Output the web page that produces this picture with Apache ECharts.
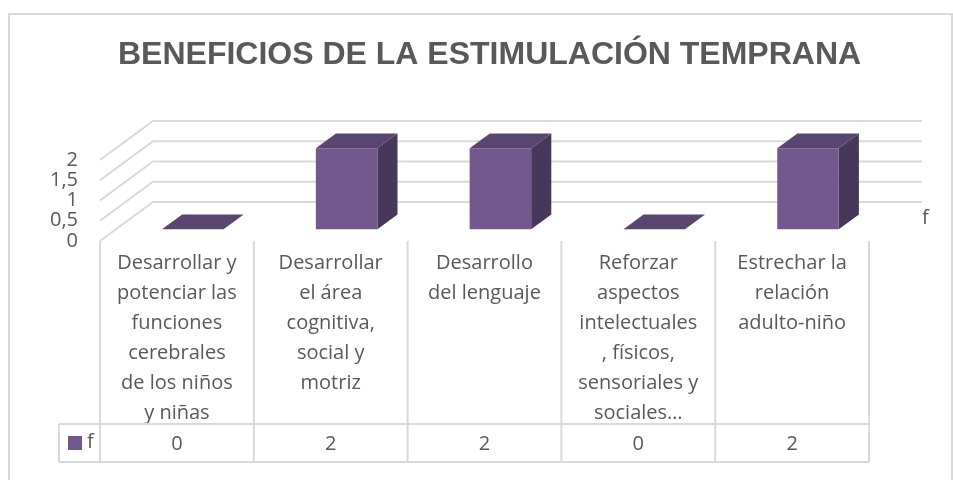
<!DOCTYPE html>
<html>
<head>
<meta charset="utf-8">
<script src="https://cdn.jsdelivr.net/npm/echarts@6/dist/echarts.min.js"></script>
<style>
  html, body { margin: 0; padding: 0; background: #fff; }
  #chart { width: 953px; height: 480px; }
</style>
</head>
<body>
<div id="chart"></div>
<script>
const title = 'BENEFICIOS DE LA ESTIMULACIÓN TEMPRANA'
const categories = [
  'Desarrollar y\npotenciar las\nfunciones\ncerebrales\nde los niños\ny niñas',
  'Desarrollar\nel área\ncognitiva,\nsocial y\nmotriz',
  'Desarrollo\ndel lenguaje',
  'Reforzar\naspectos\nintelectuales\n, físicos,\nsensoriales y\nsociales…',
  'Estrechar la\nrelación\nadulto-niño'
]
const seriesName = 'f'
const values = [0, 2, 2, 0, 2]
const yTicks = [0, 0.5, 1, 1.5, 2]

// estilo
const textColor = '#595959'
const lineColor = '#d9d9d9'
const frontColor = '#73588e'
const topColor = '#5a4570'
const sideColor = '#47375a'
const font = '"Open Sans", sans-serif'
// profundidad del "3D" en pixeles
const DX = 53, DY = -39
const BAR_FRONT = 0.3, BAR_BACK = 0.68
const BAR_SHARE = 0.4
// tabla de datos
const TABLE_TOP = 241, ROW_SPLIT = 424, TABLE_BOTTOM = 462, LEGEND_LEFT = 59

const myChart = echarts.init(document.getElementById('chart'))

const option = {
  animation: false,
  title: {
    text: title,
    left: 118,
    top: 39,
    padding: 0,
    textStyle: {
      color: textColor,
      fontSize: 32,
      fontWeight: 'bold',
      fontFamily: '"Liberation Sans", Arial, sans-serif'
    }
  },
  grid: { left: 100, right: 84, top: 160, bottom: 239 },
  xAxis: [
    {
      type: 'category',
      data: categories,
      position: 'bottom',
      axisLine: { show: false },
      axisTick: { show: false },
      splitLine: { show: false },
      axisLabel: {
        interval: 0,
        margin: 7,
        color: textColor,
        fontSize: 20,
        lineHeight: 30,
        fontFamily: font,
        align: 'center',
        verticalAlign: 'top'
      }
    },
    {
      type: 'category',
      data: categories,
      position: 'bottom',
      axisLine: { show: false },
      axisTick: { show: false },
      splitLine: { show: false },
      axisLabel: {
        interval: 0,
        margin: 188,
        color: textColor,
        fontSize: 20,
        lineHeight: 30,
        fontFamily: font,
        verticalAlign: 'top',
        formatter: (v, i) => String(values[i])
      }
    }
  ],
  yAxis: {
    type: 'value',
    min: 0,
    max: 2,
    interval: 0.5,
    axisLine: { show: false },
    axisTick: { show: false },
    splitLine: { show: false },
    axisLabel: {
      margin: 22,
      color: textColor,
      fontSize: 20,
      fontFamily: font,
      formatter: v => String(v).replace('.', ',')
    }
  },
  series: [
    {
      // paredes con las lineas de division
      type: 'custom',
      clip: false,
      silent: true,
      z: 1,
      data: yTicks.map(v => [0, v]),
      encode: { x: 0, y: 1 },
      renderItem: function (params, api) {
        const cs = params.coordSys
        const y = api.coord([0, api.value(1)])[1]
        const x0 = cs.x, x1 = cs.x + cs.width
        return {
          type: 'polyline',
          shape: { points: [[x0, y], [x0 + DX, y + DY], [x1 + DX, y + DY]] },
          style: { stroke: lineColor, lineWidth: 2, fill: null }
        }
      }
    },
    {
      name: seriesName,
      type: 'custom',
      clip: false,
      z: 3,
      data: values.map((v, i) => [i, v]),
      encode: { x: 0, y: 1 },
      renderItem: function (params, api) {
        const i = api.value(0)
        const base = api.coord([i, 0])
        const top = api.coord([i, api.value(1)])
        const w = api.size([1, 0])[0] * BAR_SHARE
        const L = base[0] - w / 2, R = base[0] + w / 2
        const T = top[1], B = base[1]
        const fx = DX * BAR_FRONT, fy = DY * BAR_FRONT
        const bx = DX * BAR_BACK, by = DY * BAR_BACK
        const children = []
        if (B - T > 0) {
          children.push({
            type: 'polygon',
            shape: { points: [[R + fx, T + fy], [R + bx, T + by], [R + bx, B + by], [R + fx, B + fy]] },
            style: { fill: sideColor }
          })
          children.push({
            type: 'rect',
            shape: { x: L + fx, y: T + fy, width: w, height: B - T },
            style: { fill: frontColor }
          })
        }
        children.push({
          type: 'polygon',
          shape: { points: [[L + fx, T + fy], [R + fx, T + fy], [R + bx, T + by], [L + bx, T + by]] },
          style: { fill: topColor }
        })
        return { type: 'group', children: children }
      }
    },
    {
      // lineas de la tabla de datos
      type: 'custom',
      clip: false,
      silent: true,
      z: 2,
      data: values.map((v, i) => [i, v]),
      encode: { x: 0, y: 1 },
      renderItem: function (params, api) {
        const i = api.value(0)
        const c = api.coord([i, 0])
        const band = api.size([1, 0])[0]
        const L = c[0] - band / 2, R = c[0] + band / 2
        const st = { stroke: lineColor, lineWidth: 2 }
        const children = [
          { type: 'line', shape: { x1: R, y1: TABLE_TOP, x2: R, y2: TABLE_BOTTOM }, style: st },
          { type: 'line', shape: { x1: L, y1: ROW_SPLIT, x2: R, y2: ROW_SPLIT }, style: st },
          { type: 'line', shape: { x1: L, y1: TABLE_BOTTOM, x2: R, y2: TABLE_BOTTOM }, style: st }
        ]
        if (i === 0) {
          children.push({ type: 'line', shape: { x1: L, y1: TABLE_TOP, x2: L, y2: TABLE_BOTTOM }, style: st })
          children.push({ type: 'line', shape: { x1: LEGEND_LEFT, y1: ROW_SPLIT, x2: L, y2: ROW_SPLIT }, style: st })
          children.push({ type: 'line', shape: { x1: LEGEND_LEFT, y1: TABLE_BOTTOM, x2: L, y2: TABLE_BOTTOM }, style: st })
          children.push({ type: 'line', shape: { x1: LEGEND_LEFT, y1: ROW_SPLIT, x2: LEGEND_LEFT, y2: TABLE_BOTTOM }, style: st })
        }
        return { type: 'group', children: children }
      }
    }
  ],
  graphic: [
    {
      type: 'rect',
      silent: true,
      shape: { x: 9, y: 14, width: 943, height: 480 },
      style: { fill: null, stroke: lineColor, lineWidth: 2 }
    },
    {
      type: 'rect',
      shape: { x: 68, y: 436, width: 14, height: 14 },
      style: { fill: frontColor }
    },
    {
      type: 'text',
      left: 87,
      top: 432,
      style: { text: seriesName, fill: textColor, font: '20px ' + font }
    },
    {
      type: 'text',
      left: 922,
      top: 208,
      style: { text: seriesName, fill: textColor, font: '20px ' + font }
    }
  ]
}

myChart.setOption(option)
</script>
</body>
</html>
